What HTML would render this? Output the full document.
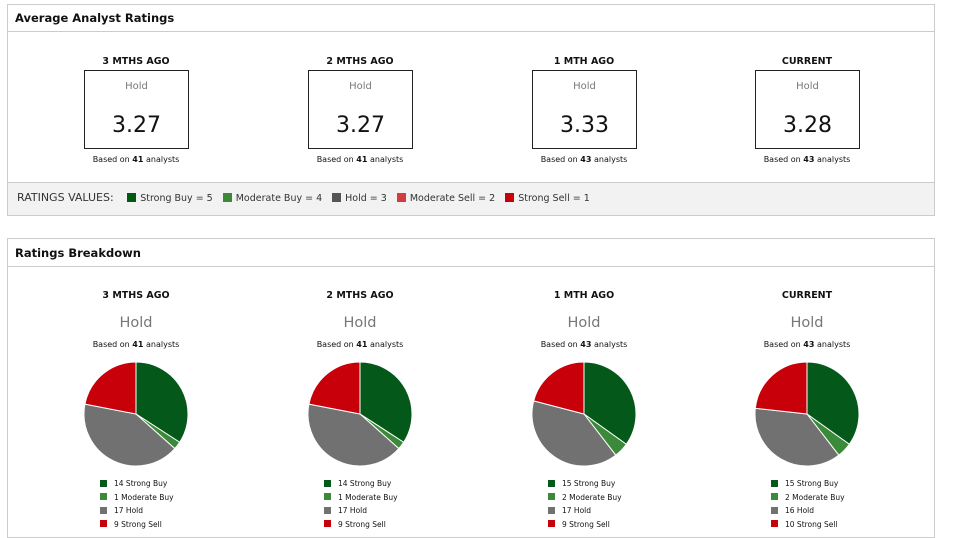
<!DOCTYPE html>
<html><head><meta charset="utf-8"><style>
*{margin:0;padding:0;box-sizing:border-box}
body{width:954px;height:532px;background:#fff;font-family:"DejaVu Sans","Liberation Sans",sans-serif;position:relative;overflow:hidden;color:#111}
.p{position:absolute;left:7px;width:928px;border:1px solid #ccc}
.h{position:absolute;left:0;right:0;top:0;border-bottom:1px solid #ccc;font-weight:bold;font-size:11.5px;padding-left:7px}
.a{position:absolute;font-size:9.5px;font-weight:bold;text-align:center;width:200px}
.box{position:absolute;width:105px;height:79px;border:1px solid #222;text-align:center}
.box .l{font-size:10px;color:#777;margin-top:10px}
.box .v{font-size:22px;margin-top:21px;color:#111}
.b{position:absolute;font-size:8px;text-align:center;width:200px}
.g{position:absolute;font-size:14.5px;color:#777;text-align:center;width:200px}
.lg{position:absolute;font-size:7.5px;line-height:13.5px}
.lg i{display:inline-block;width:7px;height:7px;margin-right:7px;vertical-align:-0.5px}
.rv{position:absolute;left:0;right:0;top:177px;height:33px;background:#f2f2f2;border-top:1px solid #ccc;font-size:11px;padding:8px 0 0 9px;color:#333;white-space:nowrap}
.rv span{font-size:9.5px;margin-left:10px}
.rv i{display:inline-block;width:9px;height:9px;margin-right:4px;vertical-align:-0.5px}
</style></head><body>
<div class="p" style="top:4px;height:212px">
<div class="h" style="height:27px;line-height:27px">Average Analyst Ratings</div>
<div class="rv">RATINGS VALUES: <span><i style="background:#005a14"></i>Strong Buy = 5</span><span><i style="background:#3a8a3a"></i>Moderate Buy = 4</span><span><i style="background:#555"></i>Hold = 3</span><span><i style="background:#d23c3c"></i>Moderate Sell = 2</span><span><i style="background:#c8000a"></i>Strong Sell = 1</span></div>
</div>
<div class="p" style="top:238px;height:300px">
<div class="h" style="height:28px;line-height:28px">Ratings Breakdown</div>
</div>
<div id="c"></div>
<script>
var cols=[
 {x:136,t:"3 MTHS AGO",v:"3.27",n:41,d:[14,1,17,0,9]},
 {x:360,t:"2 MTHS AGO",v:"3.27",n:41,d:[14,1,17,0,9]},
 {x:584,t:"1 MTH AGO",v:"3.33",n:43,d:[15,2,17,0,9]},
 {x:807,t:"CURRENT",v:"3.28",n:43,d:[15,2,16,0,10]}];
var colors=["#03581a","#3a8a3a","#717171","#d23c3c","#c8000a"];
var names=["Strong Buy","Moderate Buy","Hold","Moderate Sell","Strong Sell"];
var h="";
cols.forEach(function(c){
 var L=c.x-100;
 h+='<div class="a" style="left:'+L+'px;top:56px">'+c.t+'</div>';
 h+='<div class="box" style="left:'+(c.x-52)+'px;top:70px"><div class="l">Hold</div><div class="v">'+c.v+'</div></div>';
 h+='<div class="b" style="left:'+L+'px;top:155px">Based on <b>'+c.n+'</b> analysts</div>';
 h+='<div class="a" style="left:'+L+'px;top:290px">'+c.t+'</div>';
 h+='<div class="g" style="left:'+L+'px;top:315px">Hold</div>';
 h+='<div class="b" style="left:'+L+'px;top:340px">Based on <b>'+c.n+'</b> analysts</div>';
 var cx=c.x,cy=414,r=52,a=0,s='<svg style="position:absolute;left:0;top:0" width="954" height="532">';
 c.d.forEach(function(v,i){if(!v)return;var a2=a+v/c.n*2*Math.PI;
  var x1=cx+r*Math.sin(a),y1=cy-r*Math.cos(a),x2=cx+r*Math.sin(a2),y2=cy-r*Math.cos(a2);
  s+='<path d="M'+cx+' '+cy+'L'+x1+' '+y1+'A'+r+' '+r+' 0 '+((a2-a)>Math.PI?1:0)+' 1 '+x2+' '+y2+'Z" fill="'+colors[i]+'" stroke="#fff" stroke-width="1"/>';a=a2;});
 s+='</svg>';h+=s;
 var lg='<div class="lg" style="left:'+(c.x-36)+'px;top:477px">';
 c.d.forEach(function(v,i){if(!v)return;lg+='<div><i style="background:'+colors[i]+'"></i>'+v+' '+names[i]+'</div>';});
 h+=lg+'</div>';
});
document.getElementById("c").innerHTML=h;
</script>
</body></html>
